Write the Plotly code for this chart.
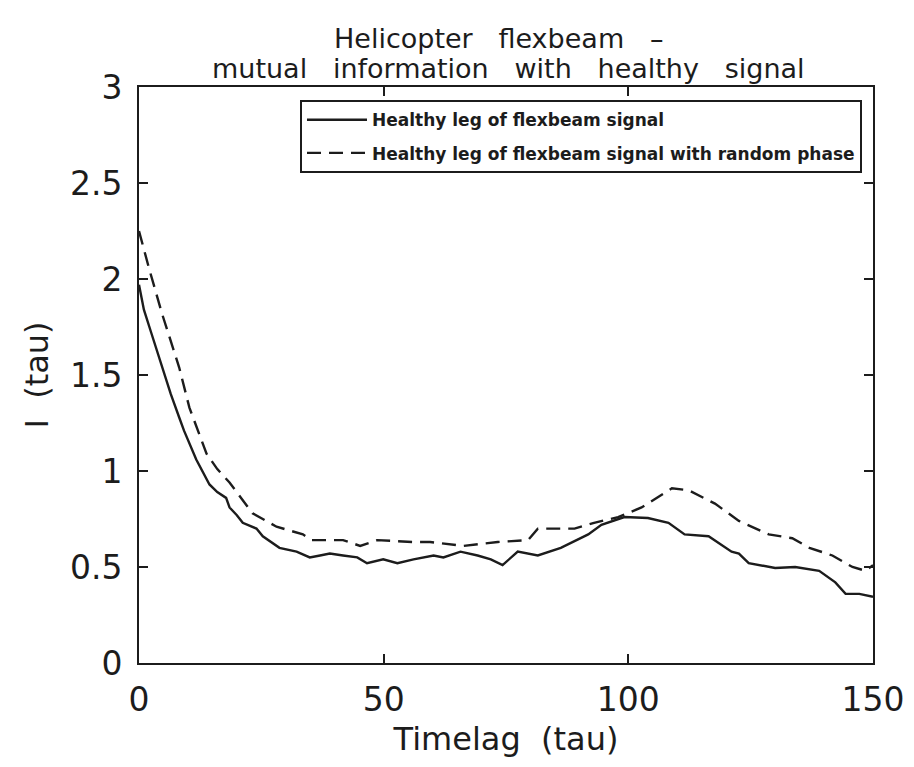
import plotly.graph_objects as go

# Healthy leg of flexbeam signal (solid)
solid_tau = [0, 1, 2.5, 4.7, 6.5, 8.2, 9.2, 11.7, 13.8, 14.4, 16, 17.8, 18.5, 20, 21.2, 24, 25.3,
             28.7, 32.2, 34.9, 37, 39, 41.7, 44.6, 46.6, 49.9, 52.8, 56.1, 60.2, 62.2, 65.7,
             69.2, 71.9, 74.3, 77.4, 81.5, 86.2, 91.8, 94.5, 99.2, 104, 108.2, 111.5, 116.4,
             121.1, 122.6, 124.6, 130, 134.1, 139, 142.3, 144.4, 147.2, 150]
solid_I = [1.97, 1.84, 1.72, 1.54, 1.40, 1.28, 1.21, 1.06, 0.96, 0.93, 0.89, 0.86, 0.81, 0.77, 0.73,
           0.70, 0.66, 0.60, 0.58, 0.55, 0.56, 0.57, 0.56, 0.55, 0.52, 0.54, 0.52, 0.54, 0.56, 0.55,
           0.58, 0.56, 0.54, 0.51, 0.58, 0.56, 0.60, 0.67, 0.72, 0.76, 0.755, 0.73, 0.67, 0.66,
           0.58, 0.57, 0.52, 0.495, 0.50, 0.48, 0.42, 0.36, 0.36, 0.345]

# Healthy leg of flexbeam signal with random phase (dashed)
dash_tau = [0, 2, 4.7, 8.2, 10.3, 13.8, 16, 18.5, 23.2, 28.1, 33.5, 35.3, 41.7, 45.2, 48.7, 56.1,
            59.5, 66.3, 73.3, 79.5, 81.5, 85.6, 89, 93, 97.9, 102.7, 108.9, 112.3, 117.7, 122.6,
            128.7, 133.5, 137, 141.7, 145.8, 148.5, 150]
dash_I = [2.25, 2.06, 1.82, 1.54, 1.33, 1.09, 1.01, 0.94, 0.78, 0.71, 0.67, 0.64, 0.64, 0.61, 0.64,
          0.63, 0.63, 0.61, 0.63, 0.64, 0.70, 0.70, 0.70, 0.73, 0.76, 0.81, 0.91, 0.90, 0.83, 0.74,
          0.67, 0.65, 0.60, 0.56, 0.50, 0.48, 0.51]

names = ["Healthy leg of flexbeam signal",
         "Healthy leg of flexbeam signal with random phase"]
x_ticks = [0, 50, 100, 150]
y_ticks = [0, 0.5, 1, 1.5, 2, 2.5, 3]
y_tick_text = ["0", "0.5", "1", "1.5", "2", "2.5", "3"]
title_lines = ["Helicopter   flexbeam   –", "mutual   information   with   healthy   signal"]
x_title = "Timelag  (tau)"
y_title = "I  (tau)"

NB = "\u00a0"
ink = "#1c1c1c"
FONT = "DejaVu Sans"

fig = go.Figure()
fig.add_trace(go.Scatter(x=solid_tau, y=solid_I, mode="lines", name=names[0], legendgroup="a",
                         line=dict(color=ink, width=2.4)))
fig.add_trace(go.Scatter(x=dash_tau, y=dash_I, mode="lines", name=names[1], legendgroup="b",
                         line=dict(color=ink, width=2.4, dash="14px,8px")))

axis_common = dict(showgrid=False, zeroline=False, showline=True, linecolor=ink, linewidth=2,
                   mirror="ticks", ticks="inside", ticklen=9, tickwidth=1.8, tickcolor=ink,
                   tickfont=dict(family=FONT, size=33, color=ink))

fig.update_layout(
    width=914, height=767,
    margin=dict(l=131, r=49, t=79, b=112),
    paper_bgcolor="white", plot_bgcolor="white",
    xaxis=dict(range=[0, 150], tickvals=x_ticks, ticktext=[str(v) for v in x_ticks],
               title=dict(text=x_title.replace(" ", NB), font=dict(family=FONT, size=32, color=ink),
                          standoff=10),
               ticklabelstandoff=6, **axis_common),
    yaxis=dict(range=[0, 3], tickvals=y_ticks, ticktext=y_tick_text,
               title=dict(text=y_title.replace(" ", NB), font=dict(family=FONT, size=32, color=ink),
                          standoff=12),
               ticklabelstandoff=8, **axis_common),
    legend=dict(x=0.985, xanchor="right", y=0.977, yanchor="top",
                bgcolor="white", bordercolor=ink, borderwidth=2,
                font=dict(family=FONT, size=17, color=ink, weight="bold"),
                tracegroupgap=8, itemwidth=60),
    showlegend=True,
)

title_y = [1.085, 1.032]
title_x = [0.49, 0.504]
for txt, tx, ty in zip(title_lines, title_x, title_y):
    fig.add_annotation(text=txt.replace(" ", NB), xref="paper", yref="paper", x=tx, y=ty,
                       xanchor="center", yanchor="middle", showarrow=False,
                       font=dict(family=FONT, size=27, color=ink))

fig.write_html("out.html")
